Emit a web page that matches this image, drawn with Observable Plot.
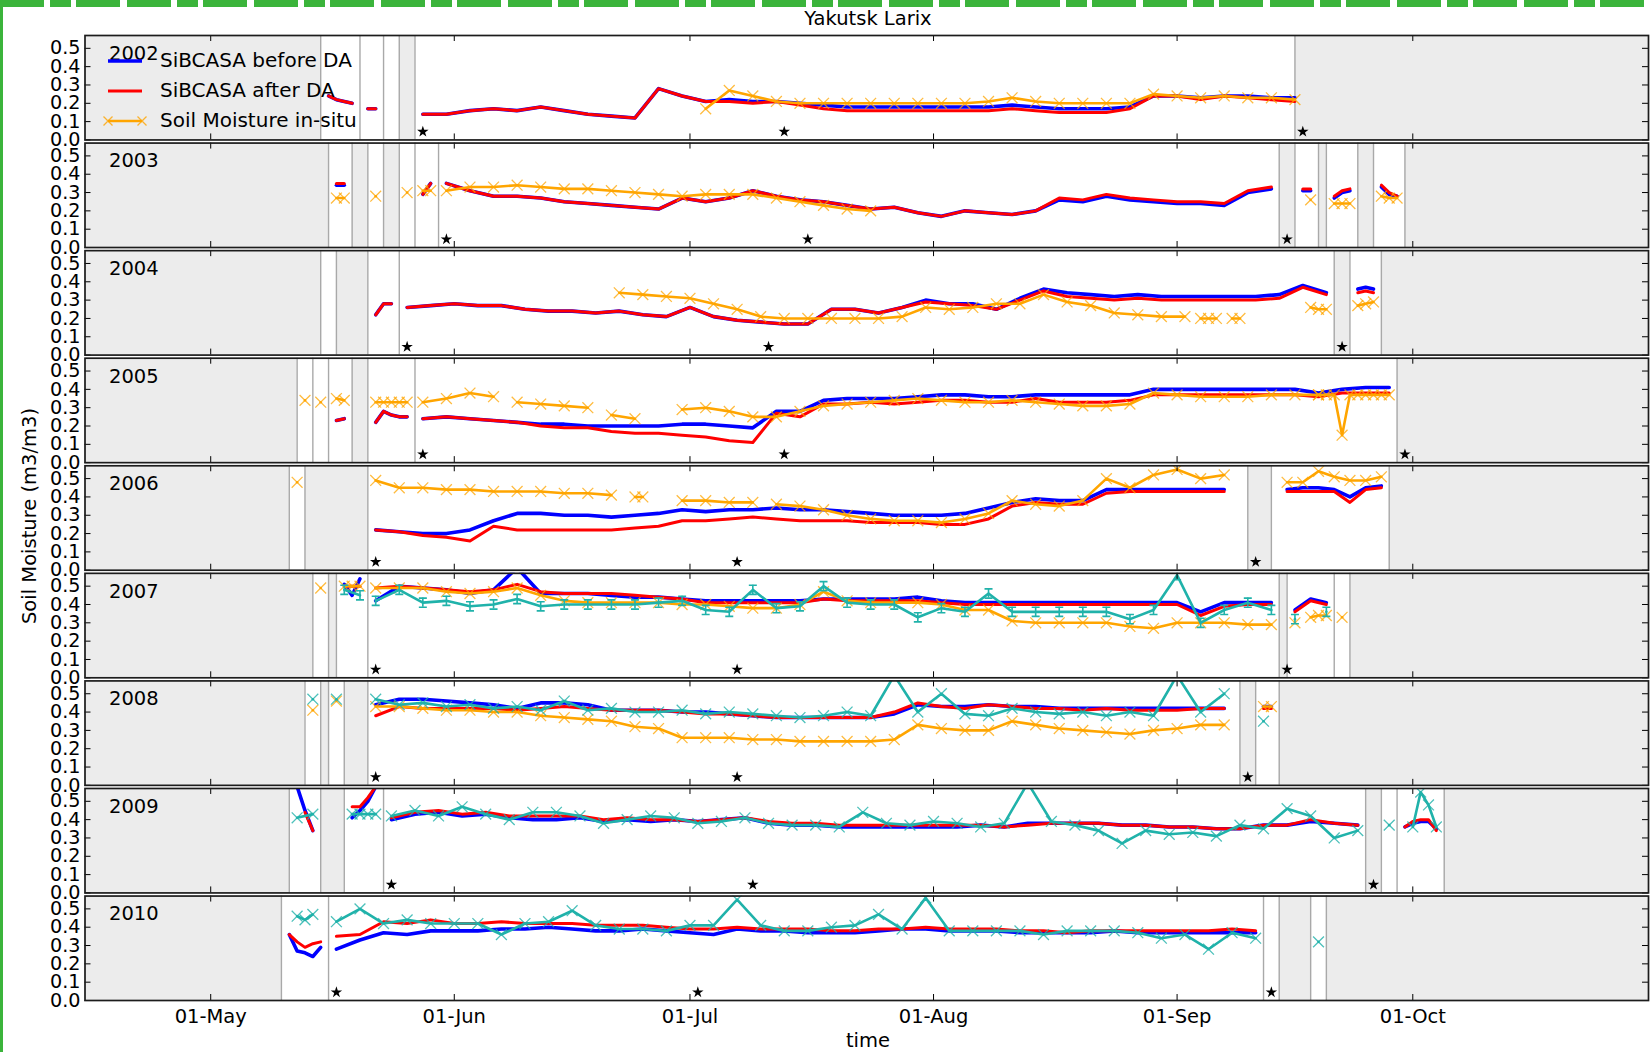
<!DOCTYPE html>
<html><head><meta charset="utf-8">
<script src="https://cdn.jsdelivr.net/npm/d3@7"></script>
<script src="https://cdn.jsdelivr.net/npm/@observablehq/plot@0.6"></script>
<style>
body{margin:0;background:#fff;font-family:"DejaVu Sans",sans-serif;color:#000;}
#wrap{position:relative;width:1650px;height:1052px;overflow:hidden;background:#fff;}
#greenLeft{position:absolute;left:0;top:0;width:3px;height:1052px;background:#3bb43b;}
#greenTop{position:absolute;left:0;top:0;width:1650px;height:7px;background:repeating-linear-gradient(90deg,#3bb43b 0 44px,transparent 44px 50px,#3bb43b 50px 71px,transparent 71px 76px,#3bb43b 76px 120px,transparent 120px 127px);}
#title{position:absolute;left:468px;width:800px;top:8px;text-align:center;font-size:19.5px;line-height:22px;}
#ylab{position:absolute;left:-170px;width:400px;top:505px;text-align:center;font-size:19.5px;line-height:22px;transform:rotate(-90deg);}
#xlab{position:absolute;left:668px;width:400px;top:1031px;text-align:center;font-size:19.5px;line-height:20px;}
#chart{position:absolute;left:0;top:34px;}
.lg{position:absolute;font-size:20px;line-height:22px;white-space:nowrap;}
.sw{position:absolute;}
</style></head>
<body><div id="wrap">
<div id="chart"></div>
<div id="greenLeft"></div><div id="greenTop"></div>
<div id="title">Yakutsk Larix</div>
<div id="ylab">Soil Moisture (m3/m3)</div>
<div id="xlab">time</div>
<div id="legend"></div>
</div>
<script>
// ---------------- data ----------------
const years = ["2002","2003","2004","2005","2006","2007","2008","2009","2010"];
const yTicks = [0, 0.1, 0.2, 0.3, 0.4, 0.5];
const monthTickDates = ["05-01","06-01","07-01","08-01","09-01","10-01"];
const seasonStart = "04-15", seasonEnd = "10-31";
const starLevel = 0.045;
const errHalf = 0.025;

const greySpans = [
 ["2002","04-15","05-15"],["2002","05-25","05-27"],["2002","09-16","10-31"],
 ["2003","04-15","05-16"],["2003","05-19","05-21"],["2003","05-23","05-25"],["2003","09-14","09-16"],["2003","09-19","09-20"],["2003","09-24","09-26"],["2003","09-30","10-31"],
 ["2004","04-15","05-15"],["2004","05-17","05-21"],["2004","09-21","09-23"],["2004","09-27","10-31"],
 ["2005","04-15","05-12"],["2005","05-19","05-21"],["2005","09-29","10-31"],
 ["2006","04-15","05-11"],["2006","05-13","05-21"],["2006","09-10","09-13"],["2006","09-28","10-31"],
 ["2007","04-15","05-14"],["2007","05-16","05-17"],["2007","09-14","09-15"],["2007","09-23","10-31"],
 ["2008","04-15","05-13"],["2008","05-15","05-16"],["2008","05-18","05-21"],["2008","09-09","09-11"],["2008","09-14","10-31"],
 ["2009","04-15","05-11"],["2009","05-15","05-18"],["2009","09-25","09-27"],["2009","10-05","10-31"],
 ["2010","04-15","05-10"],["2010","09-14","09-18"],["2010","09-20","10-31"]
];
const gapLines = [["2002","05-20"],["2002","05-23"],["2003","05-27"],["2003","05-30"],["2004","05-25"],
 ["2005","05-14"],["2005","05-16"],["2005","05-27"],["2007","05-21"],["2007","09-21"],
 ["2009","05-23"],["2009","09-29"],["2010","05-16"],["2010","09-12"]];
const starDates = [["2002","05-28"],["2002","07-13"],["2002","09-17"],["2003","05-31"],["2003","07-16"],["2003","09-15"],
 ["2004","05-26"],["2004","07-11"],["2004","09-22"],["2005","05-28"],["2005","07-13"],["2005","09-30"],
 ["2006","05-22"],["2006","07-07"],["2006","09-11"],["2007","05-22"],["2007","07-07"],["2007","09-15"],
 ["2008","05-22"],["2008","07-07"],["2008","09-10"],["2009","05-24"],["2009","07-09"],["2009","09-26"],
 ["2010","05-17"],["2010","07-02"],["2010","09-13"]];

// segments: [year, first date, step in days, values]
const blueSegs = [
 ["2002","05-16",1,[0.24,0.22,0.21,0.2]],
 ["2002","05-21",1,[0.17,0.17]],
 ["2002","05-28",3,[0.14,0.14,0.16,0.17,0.16,0.18,0.16,0.14,0.13,0.12,0.28,0.24,0.21,0.22,0.21,0.21,0.2,0.19,0.18,0.18,0.18,0.18,0.18,0.18,0.18,0.19,0.18,0.17,0.17,0.17,0.18,0.24,0.24,0.23,0.24,0.24,0.23,0.23]],
 ["2003","05-17",1,[0.34,0.34]],
 ["2003","05-28",1,[0.29,0.35]],
 ["2003","05-31",3,[0.35,0.31,0.28,0.28,0.27,0.25,0.24,0.23,0.22,0.21,0.27,0.25,0.27,0.31,0.28,0.26,0.25,0.23,0.21,0.22,0.19,0.17,0.2,0.19,0.18,0.2,0.26,0.25,0.28,0.26,0.25,0.24,0.24,0.23,0.3,0.32]],
 ["2003","09-17",1,[0.31,0.31]],
 ["2003","09-21",1,[0.27,0.3,0.31]],
 ["2003","09-27",1,[0.33,0.29,0.28]],
 ["2004","05-22",1,[0.22,0.28,0.28]],
 ["2004","05-26",3,[0.26,0.27,0.28,0.27,0.27,0.25,0.24,0.24,0.23,0.24,0.22,0.21,0.26,0.21,0.19,0.18,0.17,0.17,0.25,0.25,0.23,0.26,0.3,0.28,0.28,0.25,0.31,0.36,0.34,0.33,0.32,0.33,0.32,0.32,0.32,0.32,0.32,0.33,0.38,0.34]],
 ["2004","09-24",1,[0.36,0.37,0.36]],
 ["2005","05-17",1,[0.23,0.24]],
 ["2005","05-22",1,[0.22,0.28,0.26,0.25,0.25]],
 ["2005","05-28",3,[0.24,0.25,0.24,0.23,0.22,0.21,0.21,0.2,0.2,0.2,0.2,0.21,0.21,0.2,0.19,0.28,0.28,0.34,0.35,0.35,0.35,0.36,0.37,0.37,0.36,0.36,0.37,0.37,0.37,0.37,0.37,0.4,0.4,0.4,0.4,0.4,0.4,0.4,0.38,0.4,0.41,0.41]],
 ["2006","05-22",3,[0.22,0.21,0.2,0.2,0.22,0.27,0.31,0.31,0.3,0.3,0.29,0.3,0.31,0.33,0.32,0.33,0.33,0.34,0.33,0.33,0.32,0.31,0.3,0.3,0.3,0.31,0.34,0.37,0.39,0.38,0.38,0.44,0.44,0.44,0.44,0.44,0.44]],
 ["2006","09-15",2,[0.44,0.45,0.45,0.44,0.4,0.45,0.46]],
 ["2007","05-18",1,[0.51,0.45,0.54]],
 ["2007","05-22",3,[0.42,0.5,0.49,0.48,0.46,0.48,0.6,0.46,0.46,0.46,0.45,0.44,0.44,0.43,0.42,0.42,0.42,0.42,0.42,0.43,0.43,0.43,0.43,0.44,0.42,0.41,0.41,0.41,0.41,0.41,0.41,0.41,0.41,0.41,0.41,0.36,0.41,0.41,0.41]],
 ["2007","09-16",2,[0.37,0.43,0.41]],
 ["2008","05-22",3,[0.44,0.47,0.47,0.46,0.45,0.44,0.42,0.45,0.45,0.44,0.41,0.41,0.41,0.4,0.4,0.39,0.38,0.37,0.37,0.37,0.37,0.37,0.39,0.44,0.43,0.43,0.44,0.43,0.43,0.42,0.42,0.42,0.42,0.42,0.42,0.42,0.42]],
 ["2008","09-12",1,[0.43,0.43]],
 ["2009","05-12",1,[0.58,0.45,0.34]],
 ["2009","05-19",1,[0.41,0.45,0.5,0.58]],
 ["2009","05-24",3,[0.4,0.43,0.44,0.42,0.43,0.41,0.4,0.4,0.41,0.39,0.4,0.39,0.4,0.39,0.4,0.41,0.38,0.37,0.37,0.36,0.36,0.36,0.36,0.36,0.36,0.37,0.36,0.38,0.38,0.38,0.38,0.37,0.37,0.36,0.36,0.35,0.35,0.37,0.37,0.39,0.38,0.37]],
 ["2009","09-30",1,[0.36,0.38,0.39,0.39,0.35]],
 ["2010","05-11",1,[0.36,0.27,0.26,0.24,0.29]],
 ["2010","05-17",3,[0.28,0.33,0.37,0.36,0.38,0.38,0.38,0.39,0.39,0.4,0.39,0.38,0.38,0.39,0.38,0.37,0.36,0.39,0.38,0.38,0.37,0.37,0.37,0.38,0.39,0.39,0.38,0.38,0.38,0.37,0.37,0.37,0.37,0.38,0.37,0.37,0.37,0.37,0.37,0.37]]
];

const redSegs = [
 ["2002","05-16",1,[0.24,0.22,0.21,0.2]],
 ["2002","05-21",1,[0.17,0.17]],
 ["2002","05-28",3,[0.14,0.14,0.16,0.17,0.16,0.18,0.16,0.14,0.13,0.12,0.28,0.24,0.21,0.21,0.2,0.21,0.19,0.17,0.16,0.16,0.16,0.16,0.16,0.16,0.16,0.17,0.16,0.15,0.15,0.15,0.17,0.24,0.24,0.22,0.24,0.23,0.22,0.21]],
 ["2003","05-17",1,[0.35,0.35]],
 ["2003","05-28",1,[0.29,0.35]],
 ["2003","05-31",3,[0.35,0.31,0.28,0.28,0.27,0.25,0.24,0.23,0.22,0.21,0.27,0.25,0.27,0.31,0.28,0.26,0.25,0.23,0.21,0.22,0.19,0.17,0.2,0.19,0.18,0.2,0.27,0.26,0.29,0.27,0.26,0.25,0.25,0.24,0.31,0.33]],
 ["2003","09-17",1,[0.32,0.32]],
 ["2003","09-21",1,[0.28,0.31,0.32]],
 ["2003","09-27",1,[0.34,0.3,0.28]],
 ["2004","05-22",1,[0.22,0.28,0.28]],
 ["2004","05-26",3,[0.26,0.27,0.28,0.27,0.27,0.25,0.24,0.24,0.23,0.24,0.22,0.21,0.26,0.21,0.19,0.18,0.17,0.17,0.25,0.25,0.23,0.26,0.29,0.28,0.27,0.25,0.3,0.35,0.32,0.31,0.3,0.31,0.3,0.3,0.3,0.3,0.3,0.31,0.37,0.33]],
 ["2004","09-24",1,[0.34,0.35,0.34]],
 ["2005","05-17",1,[0.23,0.24]],
 ["2005","05-22",1,[0.22,0.28,0.26,0.25,0.25]],
 ["2005","05-28",3,[0.24,0.25,0.24,0.23,0.22,0.2,0.19,0.19,0.17,0.16,0.16,0.15,0.14,0.12,0.11,0.27,0.25,0.32,0.32,0.33,0.32,0.33,0.34,0.34,0.33,0.33,0.35,0.33,0.33,0.33,0.34,0.37,0.37,0.37,0.37,0.37,0.37,0.37,0.36,0.38,0.38,0.38]],
 ["2006","05-22",3,[0.22,0.21,0.19,0.18,0.16,0.24,0.22,0.22,0.22,0.22,0.22,0.23,0.24,0.27,0.27,0.28,0.29,0.28,0.27,0.27,0.27,0.26,0.26,0.26,0.25,0.25,0.28,0.35,0.37,0.36,0.36,0.42,0.43,0.43,0.43,0.43,0.43]],
 ["2006","09-15",2,[0.43,0.43,0.43,0.43,0.37,0.44,0.45]],
 ["2007","05-18",1,[0.5,0.5,0.5]],
 ["2007","05-22",3,[0.49,0.5,0.49,0.48,0.47,0.48,0.51,0.47,0.46,0.46,0.46,0.45,0.44,0.43,0.41,0.41,0.41,0.41,0.41,0.43,0.42,0.42,0.42,0.42,0.41,0.4,0.4,0.4,0.4,0.4,0.4,0.4,0.4,0.4,0.4,0.34,0.39,0.4,0.4]],
 ["2007","09-16",2,[0.36,0.42,0.4]],
 ["2008","05-22",3,[0.38,0.43,0.42,0.42,0.42,0.42,0.41,0.42,0.43,0.42,0.41,0.41,0.41,0.4,0.39,0.39,0.38,0.37,0.37,0.37,0.37,0.37,0.4,0.45,0.43,0.42,0.44,0.43,0.42,0.42,0.41,0.42,0.41,0.41,0.41,0.42,0.42]],
 ["2008","09-12",1,[0.42,0.42]],
 ["2009","05-13",1,[0.44,0.34]],
 ["2009","05-19",1,[0.47,0.47,0.52,0.58]],
 ["2009","05-24",3,[0.41,0.44,0.45,0.43,0.44,0.42,0.42,0.42,0.42,0.4,0.41,0.4,0.4,0.39,0.4,0.41,0.39,0.38,0.38,0.37,0.37,0.37,0.37,0.37,0.37,0.37,0.36,0.37,0.38,0.38,0.38,0.37,0.37,0.36,0.36,0.35,0.35,0.37,0.37,0.4,0.38,0.37]],
 ["2009","09-30",1,[0.36,0.39,0.4,0.4,0.34]],
 ["2010","05-11",1,[0.36,0.32,0.29,0.31,0.32]],
 ["2010","05-17",3,[0.35,0.36,0.43,0.42,0.44,0.42,0.42,0.43,0.42,0.42,0.42,0.41,0.41,0.41,0.4,0.39,0.39,0.4,0.39,0.39,0.39,0.38,0.38,0.39,0.39,0.4,0.39,0.39,0.39,0.38,0.38,0.37,0.38,0.38,0.38,0.38,0.38,0.38,0.39,0.38]]
];

const orangeSegs = [
 ["2002","07-03",3,[0.17,0.27,0.24,0.21,0.2,0.2,0.2,0.2,0.2,0.2,0.2,0.2,0.21,0.23,0.21,0.2,0.2,0.2,0.2,0.25,0.24,0.23,0.24,0.23,0.23,0.22]],
 ["2003","05-17",1,[0.27,0.27]],
 ["2003","05-22",1,[0.28]],
 ["2003","05-26",1,[0.3]],
 ["2003","05-28",1,[0.31,0.31]],
 ["2003","05-31",3,[0.31,0.33,0.33,0.34,0.33,0.32,0.32,0.31,0.3,0.29,0.28,0.29,0.29,0.29,0.27,0.25,0.23,0.21,0.2]],
 ["2003","09-18",1,[0.26]],
 ["2003","09-21",1,[0.24,0.24,0.24]],
 ["2003","09-27",1,[0.28,0.27,0.27]],
 ["2004","06-22",3,[0.34,0.33,0.32,0.31,0.28,0.25,0.21,0.2,0.2,0.2,0.2,0.2,0.21,0.26,0.25,0.26,0.28,0.28,0.33,0.29,0.27,0.23,0.22,0.21,0.21]],
 ["2004","09-04",1,[0.2,0.2,0.2]],
 ["2004","09-08",1,[0.2,0.2]],
 ["2004","09-18",1,[0.26,0.25,0.25]],
 ["2004","09-24",1,[0.27,0.28,0.29]],
 ["2005","05-13",1,[0.34]],
 ["2005","05-15",1,[0.33]],
 ["2005","05-17",1,[0.35,0.34]],
 ["2005","05-22",1,[0.33,0.33,0.33,0.33,0.33]],
 ["2005","05-28",3,[0.33,0.35,0.38,0.36]],
 ["2005","06-09",3,[0.33,0.32,0.31,0.3]],
 ["2005","06-21",3,[0.26,0.24]],
 ["2005","06-30",3,[0.29,0.3,0.28,0.25,0.25,0.28,0.31,0.32,0.33,0.34,0.35,0.34,0.33,0.33,0.34,0.33,0.32,0.31,0.31,0.32,0.38,0.37,0.36,0.36,0.36,0.37,0.37,0.37]],
 ["2005","09-19",1,[0.37,0.37,0.37,0.15,0.37,0.37,0.37,0.37,0.37,0.37]],
 ["2006","05-12",1,[0.48]],
 ["2006","05-22",3,[0.49,0.45,0.45,0.44,0.44,0.43,0.43,0.43,0.42,0.42,0.41]],
 ["2006","06-24",1,[0.4,0.4]],
 ["2006","06-30",3,[0.38,0.38,0.37,0.37]],
 ["2006","07-12",3,[0.36,0.35,0.33,0.3,0.28,0.27,0.27,0.26,0.28,0.31,0.38,0.36,0.35,0.38,0.5,0.45,0.52,0.55,0.5,0.52]],
 ["2006","09-15",2,[0.48,0.48,0.54,0.51,0.49,0.49,0.51]],
 ["2007","05-15",1,[0.49]],
 ["2007","05-18",1,[0.5,0.5,0.5]],
 ["2007","05-22",3,[0.49,0.49,0.49,0.47,0.46,0.47,0.49,0.45,0.42,0.41,0.41,0.41,0.41,0.4,0.4,0.39,0.38,0.38,0.4,0.47,0.42,0.41,0.41,0.41,0.4,0.37,0.37,0.31,0.3,0.3,0.3,0.3,0.28,0.27,0.3,0.3,0.3,0.29,0.29]],
 ["2007","09-16",1,[0.3]],
 ["2007","09-18",1,[0.33,0.34,0.34]],
 ["2007","09-22",1,[0.33]],
 ["2008","05-14",1,[0.41]],
 ["2008","05-17",1,[0.46]],
 ["2008","05-22",3,[0.43,0.43,0.42,0.41,0.41,0.4,0.4,0.38,0.37,0.36,0.35,0.32,0.31,0.26,0.26,0.26,0.25,0.25,0.24,0.24,0.24,0.24,0.25,0.33,0.31,0.3,0.3,0.35,0.33,0.31,0.3,0.29,0.28,0.3,0.31,0.33,0.33]],
 ["2008","09-12",1,[0.43,0.43]]
];

const tealSegs = [
 ["2008","05-14",1,[0.47]],
 ["2008","05-17",1,[0.47]],
 ["2008","05-22",3,[0.47,0.44,0.45,0.43,0.44,0.42,0.43,0.41,0.46,0.41,0.42,0.4,0.4,0.41,0.39,0.4,0.39,0.38,0.37,0.38,0.4,0.38,0.6,0.4,0.5,0.39,0.38,0.42,0.4,0.39,0.4,0.38,0.4,0.38,0.6,0.4,0.5]],
 ["2008","09-12",1,[0.35]],
 ["2009","05-12",2,[0.41,0.43]],
 ["2009","05-19",1,[0.43,0.43,0.43,0.43]],
 ["2009","05-24",3,[0.42,0.45,0.42,0.47,0.43,0.4,0.44,0.44,0.42,0.38,0.4,0.42,0.41,0.38,0.39,0.41,0.38,0.37,0.37,0.36,0.44,0.38,0.37,0.39,0.38,0.36,0.38,0.6,0.39,0.37,0.34,0.27,0.34,0.32,0.33,0.31,0.37,0.35,0.46,0.42,0.3,0.34]],
 ["2009","09-28",1,[0.37]],
 ["2009","10-01",1,[0.36,0.55,0.48,0.36]],
 ["2010","05-12",1,[0.46,0.44,0.47]],
 ["2010","05-17",3,[0.43,0.5,0.42,0.44,0.42,0.42,0.42,0.36,0.42,0.43,0.49,0.41,0.39,0.39,0.38,0.41,0.41,0.55,0.41,0.38,0.38,0.4,0.41,0.47,0.39,0.56,0.38,0.38,0.38,0.38,0.36,0.38,0.38,0.38,0.37,0.34,0.36,0.28,0.37,0.34]],
 ["2010","09-19",1,[0.32]]
];

// in-situ with error bars (2007)
const tealErrSegs = [
 ["2007","05-18",2,[0.48,0.45]],
 ["2007","05-22",3,[0.42,0.48,0.41,0.42,0.39,0.4,0.43,0.39,0.4,0.4,0.4,0.4,0.41,0.42,0.37,0.36,0.48,0.38,0.39,0.5,0.41,0.4,0.4,0.33,0.38,0.36,0.46,0.36,0.36,0.36,0.36,0.36,0.32,0.37,0.56,0.3,0.37,0.41,0.37]],
 ["2007","09-16",1,[0.32]],
 ["2007","09-20",1,[0.36]]
];

// ---------------- build ----------------
const parse = md => new Date(Date.UTC(2001, +md.slice(0,2) - 1, +md.slice(3)));
function expand(segs, key) {
  const rows = [];
  segs.forEach(([year, start, step, vals], i) => {
    const t0 = parse(start);
    vals.forEach((v, j) => rows.push({year, seg: key + i, date: d3.utcDay.offset(t0, j * step), v}));
  });
  return rows;
}
const blueRows = expand(blueSegs, "b");
const redRows = expand(redSegs, "r");
const orangeRows = expand(orangeSegs, "o");
const tealRows = expand(tealSegs, "t");
const tealErrRows = expand(tealErrSegs, "e");
const greyRows = greySpans.map(([year, a, b]) => ({year, from: parse(a), to: parse(b)}));
const edgeRows = [];
greySpans.forEach(([year, a, b]) => {
  if (a !== seasonStart) edgeRows.push({year, date: parse(a)});
  if (b !== seasonEnd) edgeRows.push({year, date: parse(b)});
});
gapLines.forEach(([year, d]) => edgeRows.push({year, date: parse(d)}));
const starRows = starDates.map(([year, d]) => ({year, date: parse(d)}));
const monthTicks = monthTickDates.map(parse);

const W = 1650, H = 1018, mT = 1, mB = 52, mL = 84.5, mR = 2;
const innerW = W - mL - mR;
const padIn = 0.029;
const band = (H - mT - mB) / (years.length - padIn) * (1 - padIn);
const tickLen = 6;
const cap = {draw(ctx, size) { const r = Math.sqrt(size / Math.PI); ctx.moveTo(-r, 0); ctx.lineTo(r, 0); }};
const teal = "#20b2aa";

const chart = Plot.plot({
  width: W, height: H, marginTop: mT, marginBottom: mB, marginLeft: mL, marginRight: mR,
  style: {fontFamily: "DejaVu Sans", fontSize: "19.2px", background: "transparent", color: "#000"},
  x: {type: "utc", domain: [parse(seasonStart), parse(seasonEnd)]},
  y: {domain: [0, 0.57]},
  fy: {domain: years, paddingInner: padIn, paddingOuter: 0, round: false, axis: null},
  marks: [
    Plot.rect(greyRows, {x1: "from", x2: "to", fy: "year", fill: "#ececec"}),
    Plot.ruleX(edgeRows, {x: "date", fy: "year", stroke: "#a9a9a9", strokeWidth: 1.4}),
    Plot.line(blueRows, {x: "date", y: "v", z: "seg", fy: "year", stroke: "#0000ff", strokeWidth: 3.6, clip: true}),
    Plot.line(redRows, {x: "date", y: "v", z: "seg", fy: "year", stroke: "#ff0000", strokeWidth: 3, clip: true}),
    Plot.line(orangeRows, {x: "date", y: "v", z: "seg", fy: "year", stroke: "#ffa500", strokeWidth: 2.6, clip: true}),
    Plot.dot(orangeRows, {x: "date", y: "v", fy: "year", symbol: "times", r: 5, stroke: "#ffa500", strokeWidth: 1.3, strokeOpacity: 0.75, clip: true}),
    Plot.ruleX(tealErrRows, {x: "date", y1: d => d.v - errHalf, y2: d => d.v + errHalf, fy: "year", stroke: teal, strokeWidth: 1.6, clip: true}),
    Plot.dot(tealErrRows, {x: "date", y: d => d.v - errHalf, fy: "year", symbol: cap, r: 4, stroke: teal, strokeWidth: 1.6, clip: true}),
    Plot.dot(tealErrRows, {x: "date", y: d => d.v + errHalf, fy: "year", symbol: cap, r: 4, stroke: teal, strokeWidth: 1.6, clip: true}),
    Plot.line(tealErrRows, {x: "date", y: "v", z: "seg", fy: "year", stroke: teal, strokeWidth: 2.6, clip: true}),
    Plot.line(tealRows, {x: "date", y: "v", z: "seg", fy: "year", stroke: teal, strokeWidth: 2.6, clip: true}),
    Plot.dot(tealRows, {x: "date", y: "v", fy: "year", symbol: "times", r: 5, stroke: teal, strokeWidth: 1.3, strokeOpacity: 0.8, clip: true}),
    Plot.dot(starRows, {x: "date", y: () => starLevel, fy: "year", symbol: "star", r: 3.6, fill: "#000", stroke: "none"}),
    Plot.text(years, {fy: d => d, text: d => d, frameAnchor: "top-left", dx: 24, dy: 10.5, fontSize: 19.5}),
    Plot.tickY(yTicks, {y: d => d, insetRight: innerW - tickLen, stroke: "#000", strokeWidth: 1}),
    Plot.tickY(yTicks, {y: d => d, insetLeft: innerW - tickLen, stroke: "#000", strokeWidth: 1}),
    Plot.tickX(monthTicks, {x: d => d, insetBottom: band - tickLen, stroke: "#000", strokeWidth: 1}),
    Plot.tickX(monthTicks, {x: d => d, insetTop: band - tickLen, stroke: "#000", strokeWidth: 1}),
    Plot.frame({stroke: "#1c1c1c", strokeWidth: 1.7}),
    Plot.axisY({ticks: yTicks, tickFormat: d3.format(".1f"), tickSize: 0, tickPadding: 4.5, fontSize: 19.2, label: null}),
    Plot.axisX({ticks: monthTicks, tickFormat: d3.utcFormat("%d-%b"), tickSize: 0, tickPadding: 9, fontSize: 19.5, label: null})
  ]
});
document.getElementById("chart").appendChild(chart);

// legend (top-left of first panel)
const legendItems = [
  {label: "SiBCASA before DA", color: "#0000ff", width: 3.6, marker: false},
  {label: "SiBCASA after DA", color: "#ff0000", width: 3, marker: false},
  {label: "Soil Moisture in-situ", color: "#ffa500", width: 2.6, marker: true}
];
const lg = document.getElementById("legend");
legendItems.forEach((it, i) => {
  const cy = 61 + i * 30;
  const sw = document.createElementNS("http://www.w3.org/2000/svg", "svg");
  sw.setAttribute("width", 46); sw.setAttribute("height", 20);
  sw.setAttribute("class", "sw");
  sw.style.left = "102px"; sw.style.top = (cy - 10) + "px";
  let inner = `<line x1="6" y1="10" x2="40" y2="10" stroke="${it.color}" stroke-width="${it.width}"/>`;
  if (it.marker) {
    for (const mx of [6, 40]) inner += `<path d="M${mx-4.5},5.5L${mx+4.5},14.5M${mx-4.5},14.5L${mx+4.5},5.5" stroke="${it.color}" stroke-width="1.3" opacity="0.8"/>`;
  }
  sw.innerHTML = inner;
  lg.appendChild(sw);
  const t = document.createElement("div");
  t.className = "lg"; t.textContent = it.label;
  t.style.left = "160px"; t.style.top = (cy - 12) + "px";
  lg.appendChild(t);
});
</script>
</body></html>
